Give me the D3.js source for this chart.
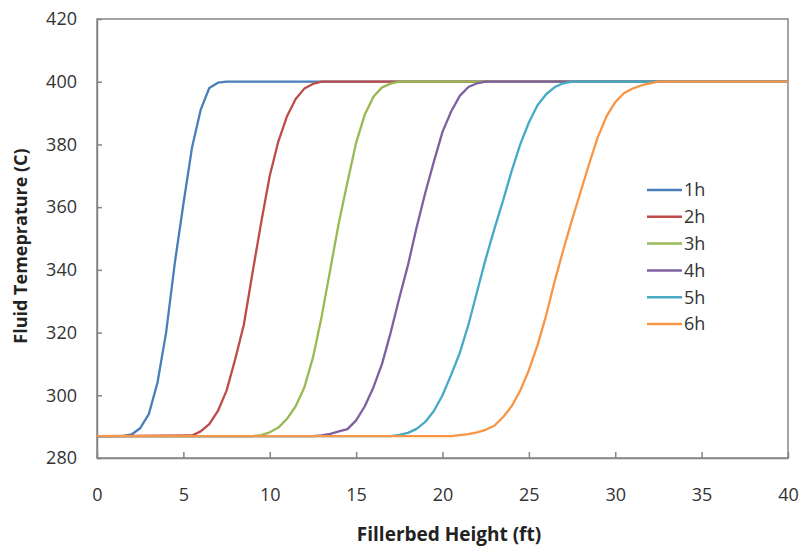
<!DOCTYPE html>
<html><head><meta charset="utf-8">
<script src="https://cdn.jsdelivr.net/npm/d3@7"></script>
<style>body{margin:0;background:#fff}svg{display:block}</style>
</head><body>
<svg id="chart" width="799" height="547"></svg>
<script>
const xTicks = [0,5,10,15,20,25,30,35,40];
const yTicks = [280,300,320,340,360,380,400,420];
const seriesNames = ["1h","2h","3h","4h","5h","6h"];
const seriesColors = ["#4A7EBB","#BE4B48","#98B954","#7D60A0","#46AAC5","#F79646"];

const s1h = [[0,287],[1.5,287],[2,287.5],[2.5,289.5],[3,294],[3.5,304],[4,320],[4.5,342],[5,361],[5.5,379],[6,391],[6.5,398],[7,399.7],[7.5,400],[40,400]];
const s2h = [[0,287],[5.5,287.2],[6,288.5],[6.5,290.8],[7,295],[7.5,301.5],[8,311.5],[8.5,322.5],[9,339],[9.5,355],[10,370],[10.5,381],[11,389],[11.5,394.5],[12,397.8],[12.5,399.3],[13,400],[40,400]];
const s3h = [[0,287],[9,287],[9.5,287.3],[10,288.2],[10.5,289.7],[11,292.5],[11.5,296.5],[12,302.5],[12.5,312],[13,325],[13.5,340],[14,355],[14.5,368],[15,380.5],[15.5,389.5],[16,395.2],[16.5,398.2],[17,399.4],[17.5,400],[40,400]];
const s4h = [[0,287],[12.5,287],[13,287.2],[13.5,287.7],[14,288.5],[14.5,289.2],[15,292],[15.5,296.5],[16,302.5],[16.5,310],[17,320],[17.5,331],[18,341.5],[18.5,353.5],[19,364.5],[19.5,374.5],[20,384],[20.5,390.5],[21,395.5],[21.5,398.3],[22,399.5],[22.5,400],[40,400]];
const s5h = [[0,287],[17,287],[17.5,287.4],[18,288],[18.5,289.3],[19,291.5],[19.5,295],[20,300],[20.5,306.5],[21,313.5],[21.5,322.5],[22,333],[22.5,343.5],[23,353],[23.5,362],[24,371.5],[24.5,380],[25,387],[25.5,392.5],[26,396],[26.5,398.3],[27,399.5],[27.5,400],[40,400]];
const s6h = [[0,287],[20.5,287],[21,287.3],[21.5,287.6],[22,288.2],[22.5,289],[23,290.3],[23.5,293],[24,296.5],[24.5,301.5],[25,308],[25.5,316],[26,325.5],[26.5,336.5],[27,346.5],[27.5,356],[28,365],[28.5,374],[29,382.5],[29.5,389],[30,393.5],[30.5,396.3],[31,397.8],[31.5,398.8],[32,399.5],[32.5,400],[40,400]];
const allSeries = [s1h,s2h,s3h,s4h,s5h,s6h];

const svg = d3.select("#chart");
const L = 97, R = 788, T = 19, B = 458;
const x = d3.scaleLinear().domain([0,40]).range([L,R]);
const y = d3.scaleLinear().domain([280,420]).range([B,T]);
const font = "'Open Sans', sans-serif";
const axisColor = "#868686";

// frame
svg.append("rect").attr("x",L).attr("y",T).attr("width",R-L).attr("height",B-T)
  .attr("fill","none").attr("stroke",axisColor).attr("stroke-width",1.5);

const xAxis = svg.append("g").attr("transform",`translate(0,${B})`)
  .call(d3.axisBottom(x).tickValues(xTicks).tickSizeInner(-6).tickSizeOuter(0).tickPadding(30));
const yAxis = svg.append("g").attr("transform",`translate(${L},0)`)
  .call(d3.axisLeft(y).tickValues(yTicks).tickSizeInner(-5).tickSizeOuter(0).tickPadding(20));
[xAxis,yAxis].forEach(g=>{
  g.select(".domain").attr("stroke",axisColor).attr("stroke-width",1.5);
  g.selectAll(".tick line").attr("stroke",axisColor).attr("stroke-width",1.5);
  g.selectAll(".tick text").attr("font-family",font).attr("font-size",18).attr("fill","#333");
});

const line = d3.line().x(d=>x(d[0])).y(d=>y(d[1]));
allSeries.forEach((s,i)=>{
  svg.append("path").datum(s).attr("d",line).attr("fill","none")
    .attr("stroke",seriesColors[i]).attr("stroke-width",2.3).attr("stroke-linejoin","round");
});

// legend
const lg = svg.append("g");
seriesNames.forEach((n,i)=>{
  const yy = 190 + i*26.8;
  lg.append("line").attr("x1",647).attr("x2",682).attr("y1",yy).attr("y2",yy)
    .attr("stroke",seriesColors[i]).attr("stroke-width",2.5);
  lg.append("text").attr("x",684).attr("y",yy).attr("dy","0.35em")
    .attr("font-family",font).attr("font-size",18).attr("fill","#333").text(n);
});

svg.append("text").attr("x",449).attr("y",541).attr("text-anchor","middle")
  .attr("font-family",font).attr("font-weight","bold").attr("font-size",19).attr("fill","#222")
  .text("Fillerbed Height (ft)");
svg.append("text").attr("transform","translate(27,246) rotate(-90)").attr("text-anchor","middle")
  .attr("font-family",font).attr("font-weight","bold").attr("font-size",18).attr("fill","#222")
  .text("Fluid Temeprature (C)");
</script>
</body></html>
